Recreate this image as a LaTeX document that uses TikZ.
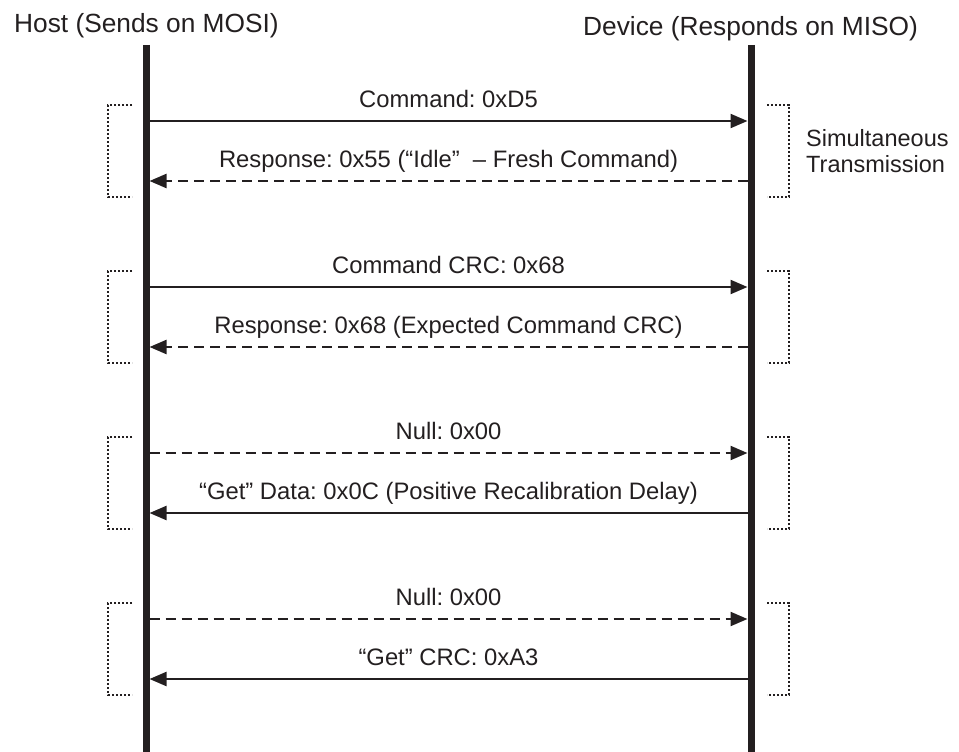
\documentclass[tikz,border=0pt]{standalone}
\usepackage{fontspec}
\setmainfont{Liberation Sans}
\usetikzlibrary{arrows.meta}
\definecolor{ink}{RGB}{35,31,32}
\begin{document}
\frenchspacing
\begin{tikzpicture}[x=1pt,y=-1pt,
  lifeline/.style={line width=7pt, draw=ink},
  msg/.style={line width=2.2pt, draw=ink, -{Triangle[length=17pt,width=14pt]}},
  reply/.style={msg, dash pattern=on 10pt off 6pt},
  bracket/.style={line width=2.3pt, draw=ink, dash pattern=on 2.2pt off 1.8pt},
  lbl/.style={anchor=base, text=ink, font=\fontsize{23.8}{28}\selectfont, inner sep=0pt},
  side/.style={anchor=base west, text=ink, font=\fontsize{23.5}{28}\selectfont, inner sep=0pt},
  head/.style={anchor=base west, text=ink, font=\fontsize{26.3}{31}\selectfont, inner sep=0pt}]
\useasboundingbox (0,0) rectangle (959,752);
% headers
\node[head] (host) at (14,33) {Host (Sends on MOSI)};
\node[head] (dev) at (583,36) {Device (Responds on MISO)};
% lifelines
\coordinate (ht) at (146,45); \coordinate (hb) at (146,752);
\coordinate (dt) at (751,45); \coordinate (db) at (751,752);
\draw[lifeline] (ht) -- (hb);
\draw[lifeline] (dt) -- (db);
% message end points
\foreach \n/\y in {1/121,2/181,3/287,4/347,5/453,6/513,7/619,8/679}{
  \coordinate (h\n) at (149.5,\y);
  \coordinate (d\n) at (747.5,\y);
}
% group 1
\draw[msg] (h1) -- (d1);
\node[lbl] (l1) at (448.5,107) {Command: 0xD5};
\draw[reply] (d2) -- (h2);
\node[lbl] (l2) at (448.5,167) {Response: 0x55 (“Idle”~\ – Fresh Command)};
% group 2
\draw[msg] (h3) -- (d3);
\node[lbl] (l3) at (448.5,273) {Command CRC: 0x68};
\draw[reply] (d4) -- (h4);
\node[lbl] (l4) at (448.5,333) {Response: 0x68 (Expected Command CRC)};
% group 3
\draw[reply] (h5) -- (d5);
\node[lbl] (l5) at (448.5,439) {Null: 0x00};
\draw[msg] (d6) -- (h6);
\node[lbl] (l6) at (448.5,499) {“Get” Data: 0x0C (Positive Recalibration Delay)};
% group 4
\draw[reply] (h7) -- (d7);
\node[lbl] (l7) at (448.5,605) {Null: 0x00};
\draw[msg] (d8) -- (h8);
\node[lbl] (l8) at (448.5,665) {“Get” CRC: 0xA3};
% brackets
\foreach \t/\b in {105/197,271/363,437/529,603/695}{
  \draw[bracket] (132,\t) -- (108,\t) -- (108,\b) -- (132,\b);
  \draw[bracket] (767,\t) -- (789,\t) -- (789,\b) -- (767,\b);
}
\node[side] (sim1) at (806,146) {Simultaneous};
\node[side] (sim2) at (806,172) {Transmission};
\end{tikzpicture}
\end{document}
